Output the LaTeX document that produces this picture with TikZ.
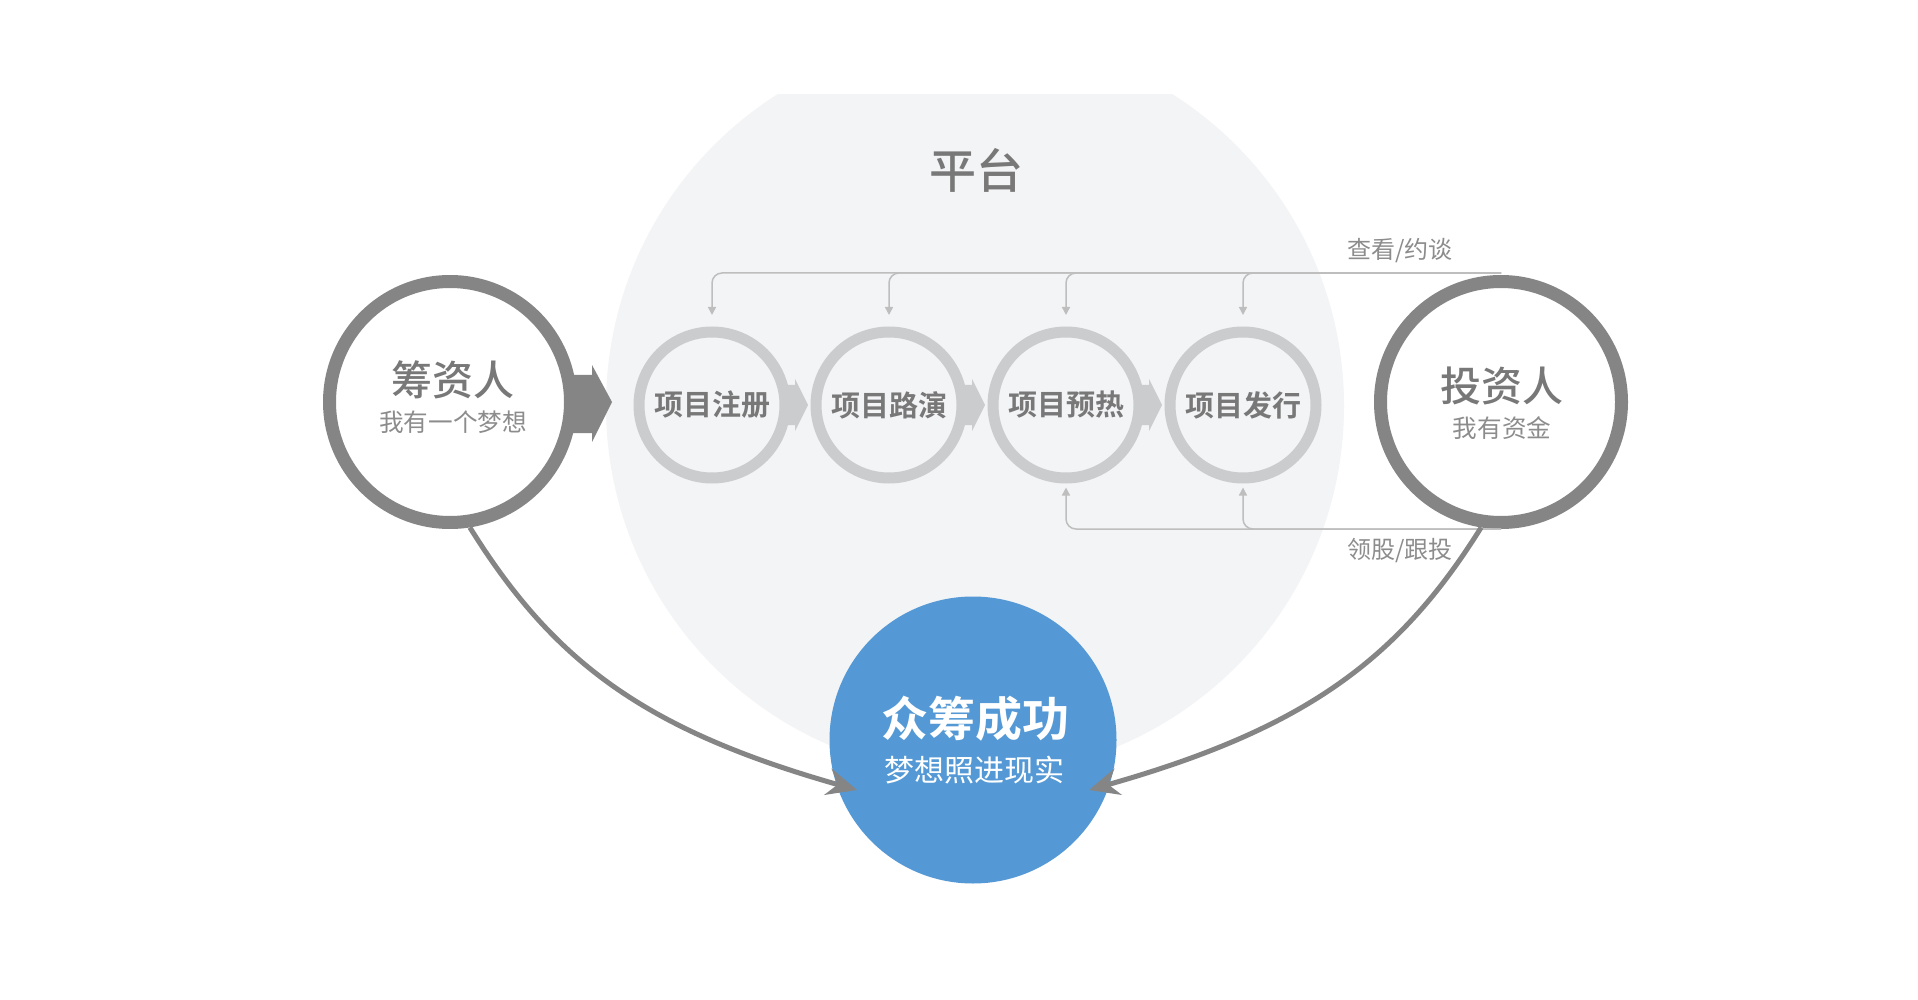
\documentclass[tikz,border=0pt]{standalone}
\usepackage{fontspec}
\setmainfont{Noto Sans CJK SC}[BoldFont=* Medium]
\newfontfamily\heavyfont{Noto Sans CJK SC}[UprightFont=* Bold]
\usepackage{tikz}
\usetikzlibrary{arrows.meta,positioning,calc}

\definecolor{platform}{HTML}{F3F4F6}
\definecolor{ringdark}{HTML}{858585}
\definecolor{ringlight}{HTML}{CBCCCD}
\definecolor{linkgray}{HTML}{BEBEBE}
\definecolor{textgray}{HTML}{787878}
\definecolor{subgray}{HTML}{8C8C8C}
\definecolor{goalblue}{HTML}{5499D5}

\begin{document}
\begin{tikzpicture}[x=0.5pt,y=-0.5pt]

	\tikzstyle{party} = [circle, draw=ringdark, line width=6.5pt, fill=white,
		minimum size=120.5pt, inner sep=0pt]
	\tikzstyle{stepring} = [circle, draw=ringlight, line width=5.5pt, minimum size=73pt,
		inner sep=0pt, text=textgray, font=\fontsize{14.5pt}{17pt}\selectfont\heavyfont]
	\tikzstyle{success} = [circle, fill=goalblue, minimum size=143.5pt, inner sep=0pt]
	\tikzstyle{bigtitle} = [text=textgray, font=\fontsize{20.5pt}{24pt}\selectfont\bfseries]
	\tikzstyle{subtitle} = [text=subgray, font=\fontsize{12.3pt}{14pt}\selectfont]
	\tikzstyle{linklabel} = [text=subgray, font=\fontsize{12pt}{14pt}\selectfont]
	\tikzstyle{link} = [draw=linkgray, line width=0.75pt, rounded corners=5pt,
		-{Triangle[length=4pt,width=4pt]}]
	\tikzstyle{flow} = [draw=ringdark, line width=2.5pt,
		-{Stealth[length=15pt,width=13.5pt,inset=5pt]}]

	\useasboundingbox[fill=white] (0,0) rectangle (1918,1000);

	% platform
	\begin{scope}
		\clip (0,95) rectangle (1918,1000);
		\fill[platform] (975,406) circle (369);
	\end{scope}
	\node[text=textgray, font=\fontsize{23.5pt}{27pt}\selectfont\bfseries] (platform) at (976,170) {平台};

	% steps
	\foreach \label [count=\i] in {项目注册,项目路演,项目预热,项目发行}
		\node[stepring] (step\i) at ({535+177*\i},405) {\label};
	\foreach \i in {1,2,3}
		\fill[ringlight, shift={(step\i.center)}]
			(70,-20) -- (83,-20) -- (83,-26) -- (96,0) -- (83,26) -- (83,20) -- (70,20) -- cycle;

	% parties
	\node[party] (fund) at (450,402) {};
	\node[party] (inv) at (1501,402) {};
	\fill[ringdark, shift={(fund.center)}]
		(120,-27) -- (142,-27) -- (142,-37) -- (162,0) -- (142,40) -- (142,31) -- (120,31) -- cycle;
	\node[bigtitle] (fundT) at (453,380) {筹资人};
	\node[subtitle] (fundS) at (453,422) {我有一个梦想};
	\node[bigtitle] (invT) at (1502,386) {投资人};
	\node[subtitle] (invS) at (1502,428) {我有资金};

	% links
	\coordinate (topR) at ([yshift=1pt]inv.north);
	\foreach \i in {1,...,4}
		\draw[link] (topR) -| ([yshift=5.75pt]step\i.north);
	\node[linklabel] (viewL) at (1400,251) {查看/约谈};
	\coordinate (botR) at (inv.south);
	\foreach \i in {3,4}
		\draw[link] (botR) -| ([yshift=-2pt]step\i.south);
	\node[linklabel] (leadL) at (1400,551) {领股/跟投};

	% success
	\node[success] (goal) at (973,740) {};
	\node[text=white, font=\fontsize{23.5pt}{27pt}\selectfont\heavyfont] (goalT) at (975,719) {众筹成功};
	\node[text=white, font=\fontsize{15pt}{18pt}\selectfont] (goalS) at (974,770) {梦想照进现实};

	\coordinate (goalW) at (857,790);
	\coordinate (goalE) at (1089,790);
	\draw[flow] (fund.-81) .. controls +(84,135) and +(-212,-60) .. (goalW);
	\draw[flow] (inv.-99) .. controls +(-84,135) and +(212,-60) .. (goalE);
\end{tikzpicture}
\end{document}
